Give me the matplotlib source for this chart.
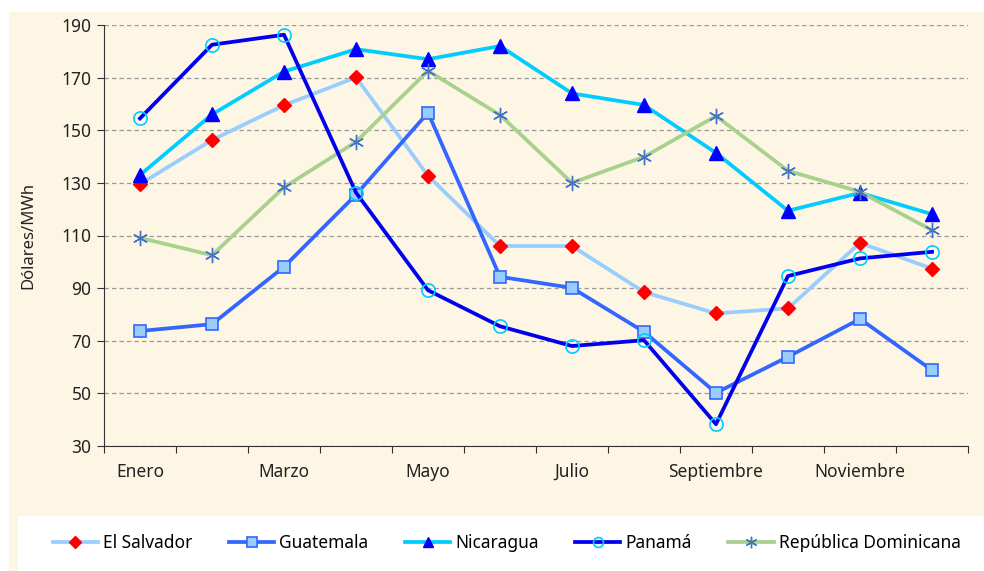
import matplotlib

matplotlib.use('Agg')
import matplotlib.pyplot as plt
from matplotlib.patches import Rectangle

plt.rcParams['font.family'] = ['Noto Sans', 'DejaVu Sans']

# datos mensuales (Dólares/MWh)
months = ['Enero', 'Febrero', 'Marzo', 'Abril', 'Mayo', 'Junio', 'Julio',
          'Agosto', 'Septiembre', 'Octubre', 'Noviembre', 'Diciembre']
el_salvador = [129.5, 146.3, 159.5, 170.1, 132.7, 106.0, 106.0, 88.5, 80.4, 82.3, 107.2, 97.4]
guatemala = [73.7, 76.3, 98.1, 125.5, 156.7, 94.3, 90.1, 73.4, 50.2, 63.9, 78.3, 58.8]
nicaragua = [133.0, 156.0, 172.3, 180.8, 177.0, 182.0, 164.0, 159.6, 141.4, 119.4, 126.2, 118.1]
panama = [154.5, 182.5, 186.3, 126.3, 89.2, 75.5, 68.0, 70.2, 38.3, 94.6, 101.3, 103.8]
rep_dominicana = [109.1, 102.5, 128.3, 145.6, 172.6, 155.8, 130.0, 139.9, 155.4, 134.6, 126.6, 112.0]

cream = '#fdf6e4'
txt = '#222222'

fig = plt.figure(figsize=(9.84, 5.71), dpi=100)
# fondo crema y caja blanca de la leyenda
fig.patches.append(Rectangle((9 / 984, 0), 1, 1 - 12 / 571, transform=fig.transFigure,
                             facecolor=cream, edgecolor='none', zorder=-2))
fig.patches.append(Rectangle((18 / 984, 0), 1, 55 / 571, transform=fig.transFigure,
                             facecolor='white', edgecolor='none', zorder=-1))

ax = fig.add_axes([104 / 984, 1 - 446 / 571, 864 / 984, 421 / 571])
ax.set_facecolor(cream)

x = list(range(len(months)))
lw = 2.7

ax.plot(x, el_salvador, color='#99ccff', lw=lw, marker='D', ms=7.5,
        mfc='#ff0000', mec='#ff0000', label='El Salvador', zorder=3)
ax.plot(x, guatemala, color='#3366ff', lw=lw, marker='s', ms=9,
        mfc='#99ccff', mec='#3366ff', mew=1.2, label='Guatemala', zorder=3)
ax.plot(x, nicaragua, color='#00ccff', lw=lw, marker='^', ms=10,
        mfc='#0000ff', mec='#0000ff', label='Nicaragua', zorder=3)
ax.plot(x, panama, color='#0000ee', lw=lw, marker='o', ms=9.5,
        mfc='none', mec='#00ccff', mew=1.2, label='Panamá', zorder=4)
ax.plot(x, rep_dominicana, color='#a9d18e', lw=lw, marker=(6, 2, 0), ms=11,
        mfc='#4472c4', mec='#4472c4', mew=1.0, label='República Dominicana', zorder=3)

ax.set_ylim(30, 190)
ax.set_yticks(range(30, 191, 20))
ax.set_xlim(-0.5, 11.5)

# marcas entre categorías, etiquetas solo en meses impares
ax.set_xticks([i - 0.5 for i in range(13)])
ax.set_xticklabels([])
ax.set_xticks(x[::2], minor=True)
ax.set_xticklabels(months[::2], minor=True)
ax.tick_params(axis='x', which='major', length=5, color='#333333', direction='out')
ax.tick_params(axis='x', which='minor', length=0, pad=12, labelsize=12.5, labelcolor=txt)
ax.tick_params(axis='y', length=5, color='#333333', labelsize=12.5, labelcolor=txt, pad=4)

ax.grid(axis='y', linestyle=(0, (3.5, 2.5)), color='#999999', lw=0.9)
ax.set_axisbelow(True)
for s in ['top', 'right']:
    ax.spines[s].set_visible(False)
for s in ['left', 'bottom']:
    ax.spines[s].set_color('#333333')

ax.set_ylabel('Dólares/MWh', fontsize=12, color=txt, labelpad=18)

fig.legend(loc='center', bbox_to_anchor=(0.515, 28 / 571), ncol=5, frameon=False,
           fontsize=12.5, handlelength=2.6, columnspacing=2.1, handletextpad=0.3,
           markerscale=0.75)

plt.savefig('out.png', dpi=100)
plt.close()
